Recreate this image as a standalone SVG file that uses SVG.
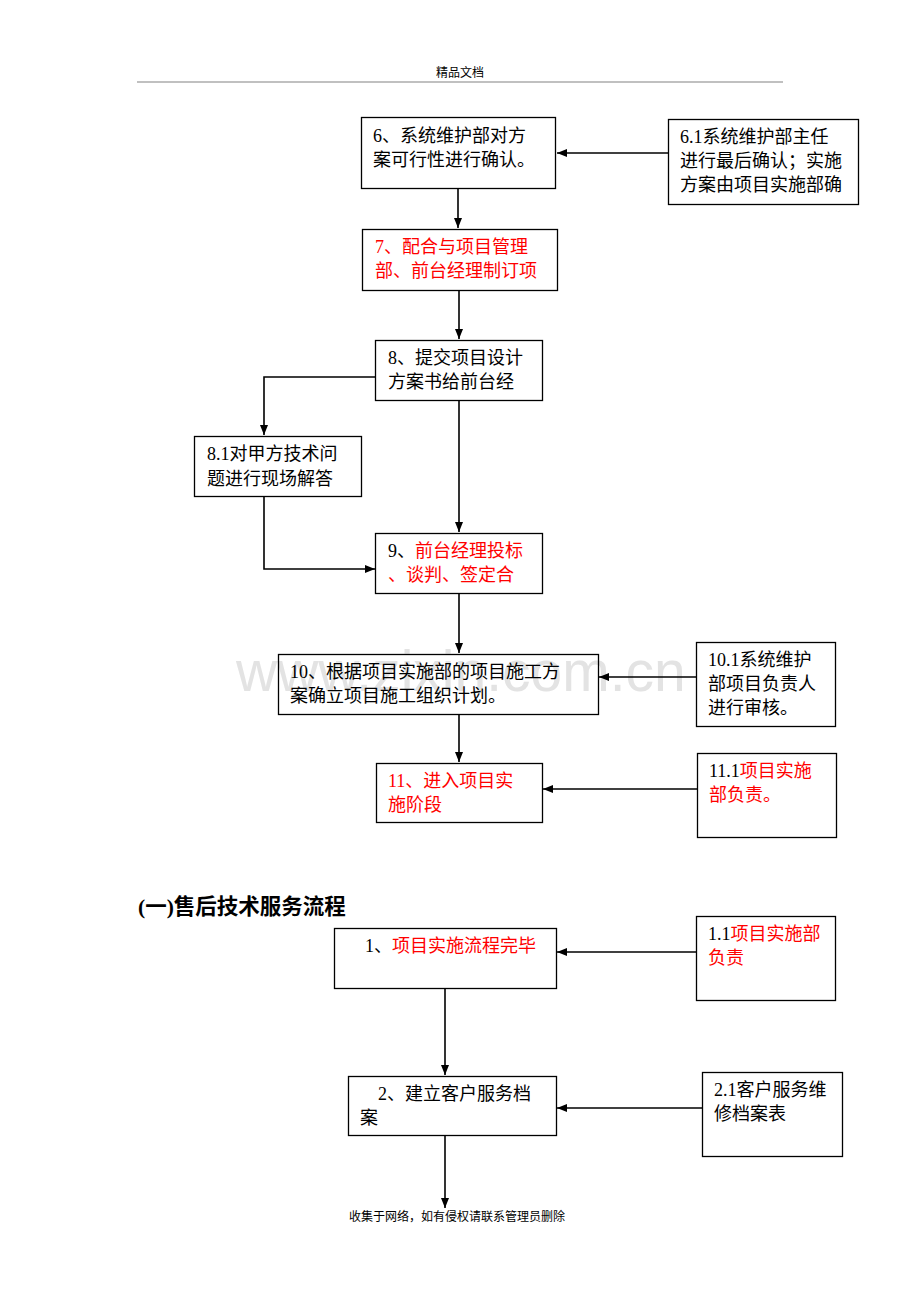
<svg xmlns="http://www.w3.org/2000/svg" width="920" height="1302" viewBox="0 0 920 1302">
<style>
.bx{fill:none;stroke:#000;stroke-width:1.3}
.t{font-family:"Liberation Serif","Noto Sans CJK SC",serif;font-size:18px;fill:#000}
.r{fill:#ff0000}
.ln{fill:none;stroke:#000;stroke-width:1.6}
.sm{font-family:"Liberation Serif","Noto Sans CJK SC",serif;font-size:12px;fill:#000}
</style>
<defs>
<marker id="a" viewBox="0 0 10 8" refX="10" refY="4" markerWidth="10" markerHeight="8" orient="auto" markerUnits="userSpaceOnUse">
<path d="M0,0 L10,4 L0,8 z" fill="#000"/>
</marker>
</defs>
<rect width="920" height="1302" fill="#fff"/>
<g id="header">
<text class="sm" x="460" y="77" text-anchor="middle">精品文档</text>
<line x1="137" y1="82" x2="783" y2="82" stroke="#c0c0c0" stroke-width="2"/>
</g>
<g id="watermark">
<text x="236" y="691" font-family="'Liberation Sans',Arial,sans-serif" font-size="57" fill="#e3e3e3">www.zixin.com.cn</text>
</g>
<g id="connectors">
<line class="ln" x1="668" y1="153" x2="557" y2="153" marker-end="url(#a)"/>
<line class="ln" x1="458" y1="188" x2="458" y2="228" marker-end="url(#a)"/>
<line class="ln" x1="459" y1="290" x2="459" y2="339" marker-end="url(#a)"/>
<polyline class="ln" points="376,377 264,377 264,435" marker-end="url(#a)"/>
<polyline class="ln" points="264,497 264,569 375,569" marker-end="url(#a)"/>
<line class="ln" x1="459" y1="401" x2="459" y2="532" marker-end="url(#a)"/>
<line class="ln" x1="459" y1="593" x2="459" y2="653" marker-end="url(#a)"/>
<line class="ln" x1="696" y1="677" x2="599" y2="677" marker-end="url(#a)"/>
<line class="ln" x1="459" y1="714" x2="459" y2="762" marker-end="url(#a)"/>
<line class="ln" x1="697" y1="789" x2="543" y2="789" marker-end="url(#a)"/>
<line class="ln" x1="696" y1="952" x2="557" y2="952" marker-end="url(#a)"/>
<line class="ln" x1="445" y1="988" x2="445" y2="1075" marker-end="url(#a)"/>
<line class="ln" x1="702" y1="1108" x2="557" y2="1108" marker-end="url(#a)"/>
<line class="ln" x1="445" y1="1135" x2="445" y2="1208" marker-end="url(#a)"/>
</g>
<g id="n6">
<rect class="bx" x="361.5" y="117.5" width="194" height="71"/>
<text class="t" x="373" y="142">6、系统维护部对方</text>
<text class="t" x="373" y="166">案可行性进行确认。</text>
</g>
<g id="n6_1">
<rect class="bx" x="668.5" y="119.5" width="190" height="85"/>
<text class="t" x="680" y="143">6.1系统维护部主任</text>
<text class="t" x="680" y="167">进行最后确认；实施</text>
<text class="t" x="680" y="191">方案由项目实施部确</text>
</g>
<g id="n7">
<rect class="bx" x="362.5" y="229.5" width="195" height="61"/>
<text class="t r" x="375" y="253">7、配合与项目管理</text>
<text class="t r" x="375" y="277">部、前台经理制订项</text>
</g>
<g id="n8">
<rect class="bx" x="375.5" y="340.5" width="167" height="60"/>
<text class="t" x="388" y="364">8、提交项目设计</text>
<text class="t" x="388" y="388">方案书给前台经</text>
</g>
<g id="n8_1">
<rect class="bx" x="194.5" y="436.5" width="167" height="60"/>
<text class="t" x="207" y="460">8.1对甲方技术问</text>
<text class="t" x="207" y="485">题进行现场解答</text>
</g>
<g id="n9">
<rect class="bx" x="375.5" y="533.5" width="167" height="60"/>
<text class="t" x="388" y="557">9、<tspan class="r">前台经理投标</tspan></text>
<text class="t r" x="388" y="581">、谈判、签定合</text>
</g>
<g id="n10">
<rect class="bx" x="278.5" y="654.5" width="320" height="60"/>
<text class="t" x="290" y="678">10、根据项目实施部的项目施工方</text>
<text class="t" x="290" y="702">案确立项目施工组织计划。</text>
</g>
<g id="n10_1">
<rect class="bx" x="696.5" y="642.5" width="139" height="84"/>
<text class="t" x="708" y="666">10.1系统维护</text>
<text class="t" x="708" y="690">部项目负责人</text>
<text class="t" x="708" y="714">进行审核。</text>
</g>
<g id="n11">
<rect class="bx" x="376.5" y="763.5" width="166" height="59"/>
<text class="t r" x="388" y="787">11、进入项目实</text>
<text class="t r" x="388" y="811">施阶段</text>
</g>
<g id="n11_1">
<rect class="bx" x="697.5" y="753.5" width="139" height="84"/>
<text class="t" x="709" y="777">11.1<tspan class="r">项目实施</tspan></text>
<text class="t r" x="709" y="801">部负责。</text>
</g>
<g id="title">
<text x="138" y="914" font-family="'Liberation Serif','Noto Sans CJK SC',serif" font-size="21.5" font-weight="bold" fill="#000">(一)售后技术服务流程</text>
</g>
<g id="s1">
<rect class="bx" x="334.5" y="928.5" width="222" height="60"/>
<text class="t" x="365" y="952">1、<tspan class="r">项目实施流程完毕</tspan></text>
</g>
<g id="s1_1">
<rect class="bx" x="696.5" y="916.5" width="139" height="84"/>
<text class="t" x="708" y="940">1.1<tspan class="r">项目实施部</tspan></text>
<text class="t r" x="708" y="964">负责</text>
</g>
<g id="s2">
<rect class="bx" x="348.5" y="1076.5" width="208" height="59"/>
<text class="t" x="378" y="1100">2、建立客户服务档</text>
<text class="t" x="360" y="1124">案</text>
</g>
<g id="s2_1">
<rect class="bx" x="702.5" y="1072.5" width="140" height="84"/>
<text class="t" x="714" y="1096">2.1客户服务维</text>
<text class="t" x="714" y="1120">修档案表</text>
</g>
<g id="footer">
<text class="sm" x="349" y="1221">收集于网络，如有侵权请联系管理员删除</text>
</g>
</svg>
